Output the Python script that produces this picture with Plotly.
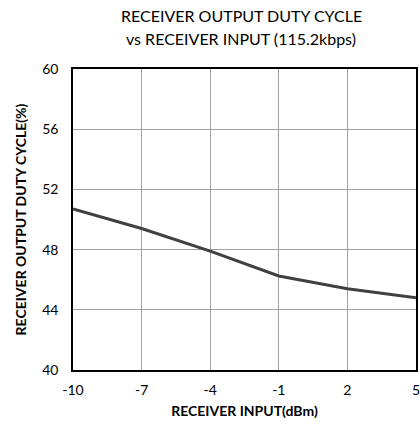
import plotly.graph_objects as go

x_vals = [-10, -7, -4, -1, 2, 5]
duty = [50.7, 49.4, 47.9, 46.25, 45.4, 44.8]
x_ticks = [-10, -7, -4, -1, 2, 5]
y_ticks = [40, 44, 48, 52, 56, 60]
title_lines = ["RECEIVER OUTPUT DUTY CYCLE", "vs RECEIVER INPUT (115.2kbps)"]

fig = go.Figure()
fig.add_trace(go.Scatter(x=x_vals, y=duty, mode="lines",
                         line=dict(color="#404040", width=3), showlegend=False))

font_family = "Lato, 'Liberation Sans', sans-serif"
fig.update_layout(
    width=420, height=427,
    margin=dict(l=73, r=4, t=69, b=57, autoexpand=False),
    paper_bgcolor="white", plot_bgcolor="white",
    font=dict(family=font_family, color="#000000"),
)
for i, (txt, yy) in enumerate(zip(title_lines, [1.178, 1.102])):
    fig.add_annotation(text=txt, xref="paper", yref="paper", x=0.49, y=yy,
                       xanchor="center", yanchor="middle", showarrow=False,
                       font=dict(size=16, color="#000000"))

fig.update_xaxes(range=[-10, 5], tickvals=x_ticks, ticktext=[str(v) for v in x_ticks],
                 showgrid=True, gridcolor="#a0a0a0", gridwidth=1, automargin=False,
                 showline=True, linecolor="black", linewidth=1.5, mirror=True,
                 zeroline=False, ticks="", tickfont=dict(size=14), ticklabelstandoff=6,
                 ticklabeloverflow="allow",
                 title=dict(text="<b>RECEIVER INPUT(dBm)</b>", font=dict(size=14), standoff=10))
fig.update_yaxes(range=[40, 60], tickvals=y_ticks, ticktext=[str(v) for v in y_ticks],
                 showgrid=True, gridcolor="#a0a0a0", gridwidth=1, automargin=False,
                 showline=True, linecolor="black", linewidth=1.5, mirror=True,
                 zeroline=False, ticks="", tickfont=dict(size=14), ticklabelstandoff=10,
                 title=dict(text="<b>RECEIVER OUTPUT DUTY CYCLE(%)</b>", font=dict(size=14), standoff=12))

fig.write_html("out.html", config={"displayModeBar": False},
               post_script="document.body.style.margin='0';document.body.style.overflow='hidden';")
